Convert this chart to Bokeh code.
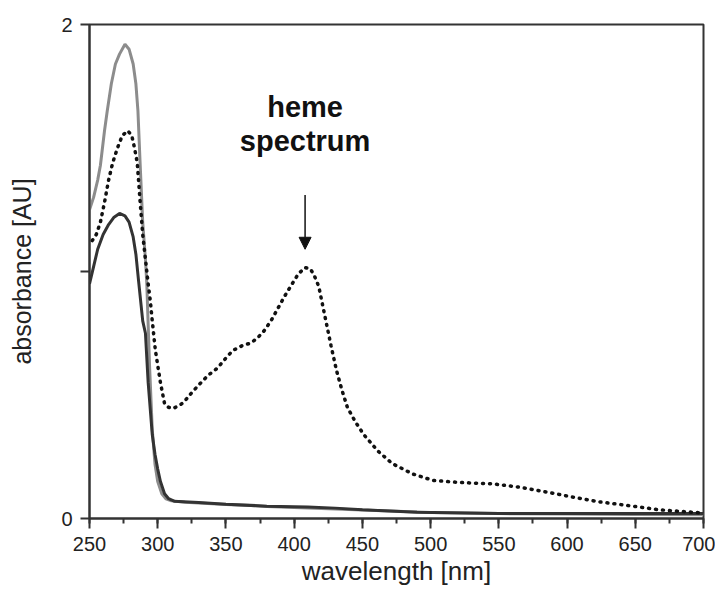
from bokeh.plotting import figure
from bokeh.models import Arrow, NormalHead, Label, FixedTicker
from bokeh.embed import file_html
from bokeh.resources import INLINE

# gray solid spectrum
wl_gray = [250, 253, 256, 258, 261, 263, 266, 269, 272, 276, 279, 282, 284, 285.5, 287, 289,
           291, 292, 294, 296, 298, 300, 303, 306, 310, 320, 350, 380, 400, 450, 500, 550, 600, 650, 700]
abs_gray = [1.25, 1.30, 1.37, 1.43, 1.57, 1.65, 1.76, 1.84, 1.88, 1.92, 1.90, 1.84, 1.76, 1.65, 1.45, 1.20,
            1.05, 0.95, 0.62, 0.36, 0.22, 0.15, 0.10, 0.08, 0.072, 0.066, 0.057, 0.049, 0.045, 0.034, 0.024,
            0.02, 0.018, 0.016, 0.015]

# dark solid spectrum
wl_dark = [250, 253, 256, 260, 264, 268, 272, 276, 279, 282, 284, 286, 287.5, 289, 291, 293, 296, 298,
           300, 302, 305, 308, 312, 330, 350, 380, 410, 430, 450, 490, 550, 620, 700]
abs_dark = [0.95, 1.02, 1.09, 1.15, 1.19, 1.22, 1.235, 1.225, 1.20, 1.14, 1.07, 0.96, 0.88, 0.80, 0.75,
            0.55, 0.34, 0.26, 0.20, 0.15, 0.10, 0.08, 0.07, 0.065, 0.058, 0.05, 0.047, 0.042, 0.035, 0.025,
            0.02, 0.02, 0.02]

# dotted spectrum (with heme)
wl_dot = [252, 255, 258, 261, 264, 267, 270.5, 274, 278, 281, 283, 285, 287, 289, 291, 293, 294.6, 296,
          298.3, 302, 305, 308, 311, 315, 319, 325, 331, 337, 344, 350, 355, 362, 368, 373, 378, 383, 388,
          393, 398, 403, 408, 412, 415, 418, 421, 424, 427, 431, 435, 439, 445, 451, 461, 472, 487, 502,
          521, 546, 565, 585, 604, 624, 644, 668, 700]
abs_dot = [1.125, 1.15, 1.20, 1.28, 1.37, 1.44, 1.50, 1.55, 1.57, 1.55, 1.50, 1.44, 1.29, 1.15, 1.05,
           0.95, 0.88, 0.80, 0.68, 0.55, 0.465, 0.45, 0.445, 0.455, 0.47, 0.51, 0.546, 0.58, 0.61, 0.65,
           0.68, 0.70, 0.71, 0.73, 0.76, 0.80, 0.85, 0.90, 0.945, 0.99, 1.016, 1.01, 0.98, 0.94, 0.86, 0.78,
           0.70, 0.60, 0.52, 0.45, 0.39, 0.34, 0.275, 0.222, 0.18, 0.154, 0.146, 0.14, 0.127, 0.107, 0.087,
           0.067, 0.053, 0.035, 0.022]

x_ticks = [250, 300, 350, 400, 450, 500, 550, 600, 650, 700]
y_ticks = [0, 1, 2]
y_tick_labels = {0: "0", 1: "", 2: "2"}

annot_text_1 = "heme"
annot_text_2 = "spectrum"
annot_x = 408
annot_arrow_y = (1.31, 1.09)

FONT = "Liberation Sans"
TXT = "#222222"

p = figure(width=715, height=588, x_range=(250, 700), y_range=(0, 2),
           output_backend="svg", toolbar_location=None,
           min_border_left=89, min_border_right=12, min_border_top=24, min_border_bottom=70)

p.grid.visible = False
p.background_fill_color = "white"
p.border_fill_color = "white"
p.outline_line_color = "#333333"
p.outline_line_width = 2

p.line(wl_gray, abs_gray, line_color="#8c8c8c", line_width=3)
p.line(wl_dark, abs_dark, line_color="#333333", line_width=3)
p.line(wl_dot, abs_dot, line_color="#111111", line_width=3.5, line_dash="1 6", line_cap="round")

# axes
xa = p.xaxis[0]
xa.ticker = FixedTicker(ticks=x_ticks, minor_ticks=list(range(250, 701, 25)))
xa.axis_label = "wavelength [nm]"
ya = p.yaxis[0]
ya.ticker = FixedTicker(ticks=y_ticks)
ya.major_label_overrides = y_tick_labels
ya.axis_label = "absorbance [AU]"

for ax in (xa, ya):
    ax.axis_line_color = "#333333"
    ax.axis_line_width = 2
    ax.major_tick_line_color = "#333333"
    ax.major_tick_line_width = 2
    ax.minor_tick_line_color = "#333333"
    ax.minor_tick_line_width = 2
    ax.major_tick_in = 0
    ax.minor_tick_in = 0
    ax.major_label_text_font = FONT
    ax.major_label_text_font_size = "20px"
    ax.major_label_text_color = TXT
    ax.axis_label_text_font = FONT
    ax.axis_label_text_font_style = "normal"
    ax.axis_label_text_color = TXT

xa.axis_label_text_font_size = "26px"
ya.axis_label_text_font_size = "25px"
xa.major_tick_out = 10
xa.minor_tick_out = 5
xa.major_label_standoff = 8
xa.axis_label_standoff = 2
ya.major_tick_out = 9
ya.minor_tick_out = 0
ya.major_label_standoff = 8
ya.axis_label_standoff = 22
ya.minor_tick_line_color = None

# annotation
p.add_layout(Label(x=annot_x, y=1.664, text=annot_text_1, text_font=FONT, text_font_size="29px",
                   text_font_style="bold", text_color="#111111", text_align="center",
                   text_baseline="middle"))
p.add_layout(Label(x=annot_x, y=1.53, text=annot_text_2, text_font=FONT, text_font_size="29px",
                   text_font_style="bold", text_color="#111111", text_align="center",
                   text_baseline="middle"))
p.add_layout(Arrow(x_start=annot_x, y_start=annot_arrow_y[0], x_end=annot_x, y_end=annot_arrow_y[1],
                   line_color="#111111", line_width=1.5,
                   end=NormalHead(size=12, fill_color="#111111", line_color="#111111")))

open("out.html", "w").write(file_html(p, INLINE))
